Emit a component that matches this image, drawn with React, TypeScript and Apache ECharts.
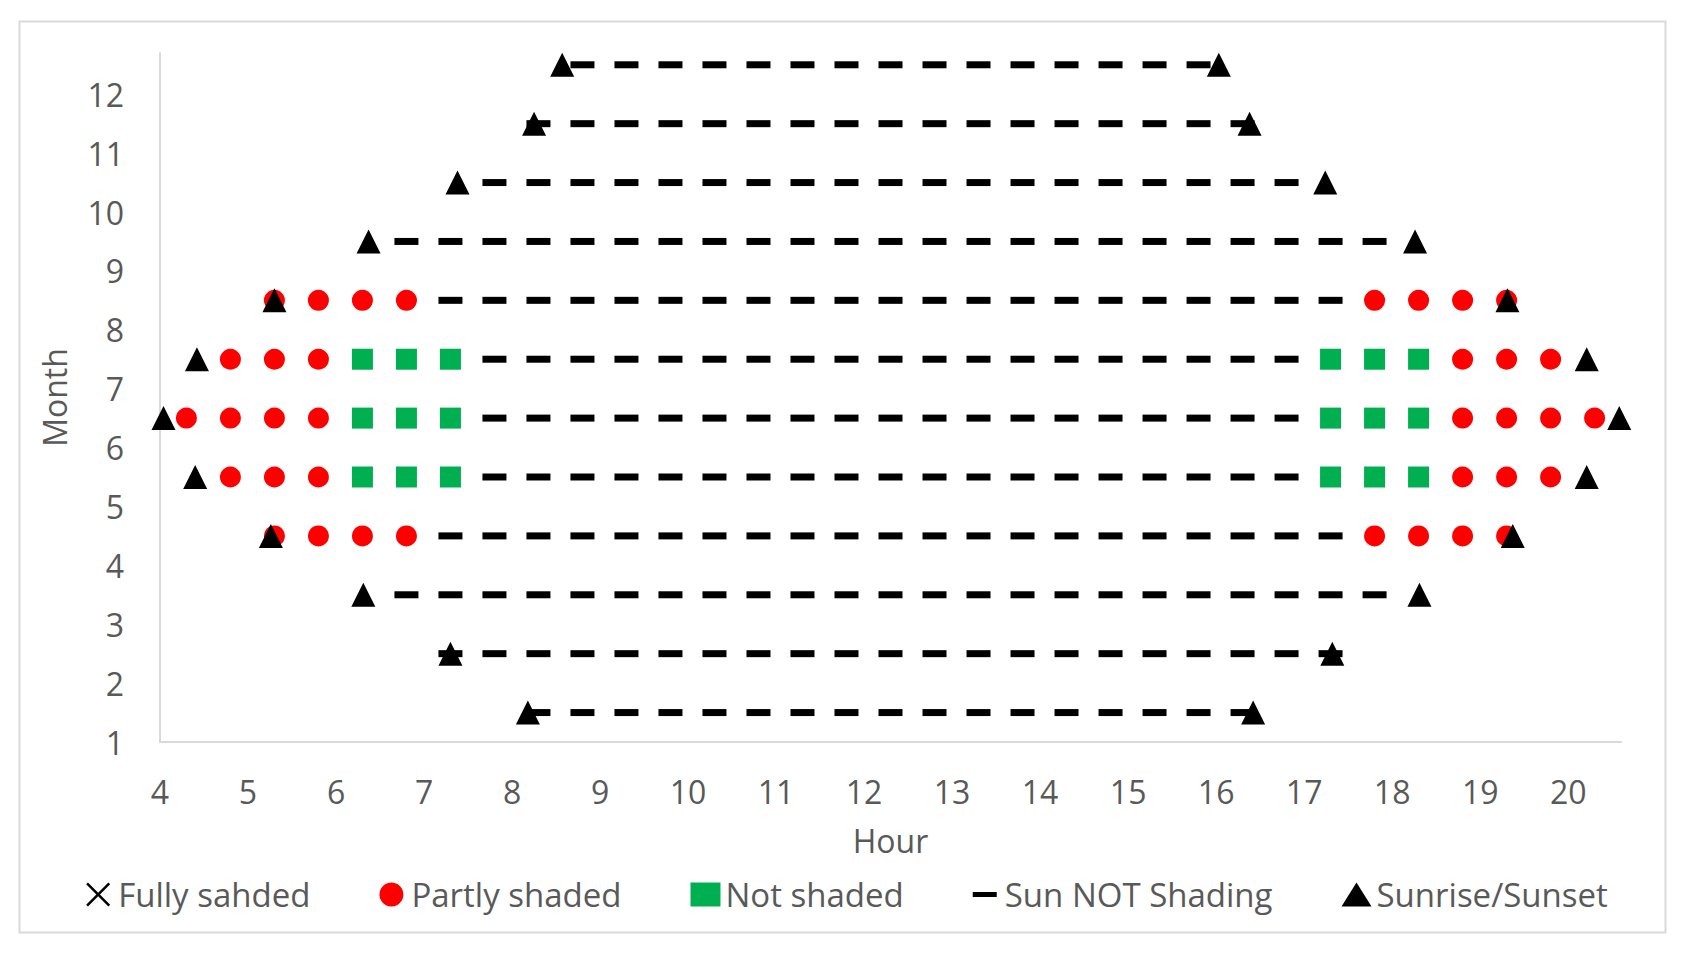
import React, { useEffect, useRef } from "react";
import * as echarts from "echarts";

// Row position of each month (points sit between the integer ticks)
const rowY = [1.5, 2.5, 3.5, 4.5, 5.5, 6.5, 7.5, 8.5, 9.5, 10.5, 11.5, 12.5];

const sunriseHours = [8.18, 7.3, 6.31, 5.26, 4.4, 4.04, 4.42, 5.3, 6.37, 7.38, 8.25, 8.57];
const sunsetHours = [16.42, 17.32, 18.31, 19.37, 20.21, 20.58, 20.21, 19.31, 18.26, 17.24, 16.38, 16.03];

const fullyShadedHours: number[][] = [[], [], [], [], [], [], [], [], [], [], [], []];

const partlyShadedHours: number[][] = [
  [],
  [],
  [],
  [5.3, 5.8, 6.3, 6.8, 17.8, 18.3, 18.8, 19.3],
  [4.8, 5.3, 5.8, 18.8, 19.3, 19.8],
  [4.3, 4.8, 5.3, 5.8, 18.8, 19.3, 19.8, 20.3],
  [4.8, 5.3, 5.8, 18.8, 19.3, 19.8],
  [5.3, 5.8, 6.3, 6.8, 17.8, 18.3, 18.8, 19.3],
  [],
  [],
  [],
  [],
];

const notShadedHours: number[][] = [
  [],
  [],
  [],
  [],
  [6.3, 6.8, 7.3, 17.3, 17.8, 18.3],
  [6.3, 6.8, 7.3, 17.3, 17.8, 18.3],
  [6.3, 6.8, 7.3, 17.3, 17.8, 18.3],
  [],
  [],
  [],
  [],
  [],
];

const sunNotShadingHours: number[][] = [
  [8.3, 8.8, 9.3, 9.8, 10.3, 10.8, 11.3, 11.8, 12.3, 12.8, 13.3, 13.8, 14.3, 14.8, 15.3, 15.8, 16.3],
  [7.3, 7.8, 8.3, 8.8, 9.3, 9.8, 10.3, 10.8, 11.3, 11.8, 12.3, 12.8, 13.3, 13.8, 14.3, 14.8, 15.3, 15.8, 16.3, 16.8, 17.3],
  [6.8, 7.3, 7.8, 8.3, 8.8, 9.3, 9.8, 10.3, 10.8, 11.3, 11.8, 12.3, 12.8, 13.3, 13.8, 14.3, 14.8, 15.3, 15.8, 16.3, 16.8, 17.3, 17.8],
  [7.3, 7.8, 8.3, 8.8, 9.3, 9.8, 10.3, 10.8, 11.3, 11.8, 12.3, 12.8, 13.3, 13.8, 14.3, 14.8, 15.3, 15.8, 16.3, 16.8, 17.3],
  [7.8, 8.3, 8.8, 9.3, 9.8, 10.3, 10.8, 11.3, 11.8, 12.3, 12.8, 13.3, 13.8, 14.3, 14.8, 15.3, 15.8, 16.3, 16.8],
  [7.8, 8.3, 8.8, 9.3, 9.8, 10.3, 10.8, 11.3, 11.8, 12.3, 12.8, 13.3, 13.8, 14.3, 14.8, 15.3, 15.8, 16.3, 16.8],
  [7.8, 8.3, 8.8, 9.3, 9.8, 10.3, 10.8, 11.3, 11.8, 12.3, 12.8, 13.3, 13.8, 14.3, 14.8, 15.3, 15.8, 16.3, 16.8],
  [7.3, 7.8, 8.3, 8.8, 9.3, 9.8, 10.3, 10.8, 11.3, 11.8, 12.3, 12.8, 13.3, 13.8, 14.3, 14.8, 15.3, 15.8, 16.3, 16.8, 17.3],
  [6.8, 7.3, 7.8, 8.3, 8.8, 9.3, 9.8, 10.3, 10.8, 11.3, 11.8, 12.3, 12.8, 13.3, 13.8, 14.3, 14.8, 15.3, 15.8, 16.3, 16.8, 17.3, 17.8],
  [7.8, 8.3, 8.8, 9.3, 9.8, 10.3, 10.8, 11.3, 11.8, 12.3, 12.8, 13.3, 13.8, 14.3, 14.8, 15.3, 15.8, 16.3, 16.8],
  [8.3, 8.8, 9.3, 9.8, 10.3, 10.8, 11.3, 11.8, 12.3, 12.8, 13.3, 13.8, 14.3, 14.8, 15.3, 15.8, 16.3],
  [8.8, 9.3, 9.8, 10.3, 10.8, 11.3, 11.8, 12.3, 12.8, 13.3, 13.8, 14.3, 14.8, 15.3, 15.8],
];

const seriesNames = ["Fully sahded", "Partly shaded", "Not shaded", "Sun NOT Shading", "Sunrise/Sunset"];

const toPoints = (rows: number[][]) =>
  rows.flatMap((hours, i) => hours.map((h) => [h, rowY[i]]));

const X_ICON =
  "path://M0,1.5L1.5,0L10,8.5L18.5,0L20,1.5L11.5,10L20,18.5L18.5,20L10,11.5L1.5,20L0,18.5L8.5,10Z";
const DASH_ICON =
  "path://M0,0L0.01,0L0,0.01Z M0,9.5L24,9.5L24,14.5L0,14.5Z M23.99,24L24,24L24,23.99Z";

const FONT = "'Open Sans'";
const TEXT_COLOR = "#595959";

export default function App() {
  const ref = useRef<HTMLDivElement>(null);

  useEffect(() => {
    document.body.style.margin = "0";
    if (!ref.current) return;
    const chart = echarts.init(ref.current, undefined, { renderer: "svg" });

    const sunPoints = [
      ...sunriseHours.map((h, i) => [h, rowY[i]]),
      ...sunsetHours.map((h, i) => [h, rowY[i]]),
    ];

    const solid = (color: string) => ({ color, opacity: 1 });

    chart.setOption({
      animation: false,
      backgroundColor: "#ffffff",
      textStyle: { fontFamily: FONT },
      graphic: [
        {
          type: "rect",
          shape: { x: 19.5, y: 21.5, width: 1646, height: 911 },
          style: { fill: "none", stroke: "#D9D9D9", lineWidth: 2 },
          silent: true,
          z: -1,
        },
      ],
      grid: { left: 160, right: 73, top: 53, bottom: 218, containLabel: false },
      xAxis: {
        type: "value",
        min: 4,
        max: 20.6,
        interval: 1,
        name: "Hour",
        nameLocation: "middle",
        nameGap: 82,
        nameTextStyle: { color: TEXT_COLOR, fontSize: 32, fontFamily: FONT },
        axisLine: { show: true, onZero: false, lineStyle: { color: "#D9D9D9", width: 2 } },
        axisTick: { show: false },
        splitLine: { show: false },
        axisLabel: {
          color: TEXT_COLOR,
          fontSize: 32,
          fontFamily: FONT,
          margin: 33,
          formatter: (v: number) => (Number.isInteger(v) ? String(v) : ""),
        },
      },
      yAxis: {
        type: "value",
        min: 1,
        max: 12.7,
        interval: 1,
        name: "Month",
        nameLocation: "middle",
        nameGap: 90,
        nameTextStyle: { color: TEXT_COLOR, fontSize: 32, fontFamily: FONT },
        axisLine: { show: true, onZero: false, lineStyle: { color: "#D9D9D9", width: 2 } },
        axisTick: { show: false },
        splitLine: { show: false },
        axisLabel: {
          color: TEXT_COLOR,
          fontSize: 32,
          fontFamily: FONT,
          margin: 36,
          formatter: (v: number) => (Number.isInteger(v) ? String(v) : ""),
        },
      },
      legend: {
        left: "center",
        top: 873,
        itemWidth: 30,
        itemHeight: 24,
        itemGap: 69,
        textStyle: { color: TEXT_COLOR, fontSize: 33, fontFamily: FONT },
        data: [
          { name: seriesNames[0], icon: X_ICON },
          { name: seriesNames[1], icon: "circle" },
          { name: seriesNames[2], icon: "rect" },
          { name: seriesNames[3], icon: DASH_ICON },
          { name: seriesNames[4], icon: "triangle" },
        ],
      },
      series: [
        {
          name: seriesNames[0],
          type: "scatter",
          symbol: X_ICON,
          symbolSize: 22,
          itemStyle: solid("#000000"),
          data: toPoints(fullyShadedHours),
        },
        {
          name: seriesNames[1],
          type: "scatter",
          symbol: "circle",
          symbolSize: 21,
          itemStyle: solid("#FF0000"),
          data: toPoints(partlyShadedHours),
        },
        {
          name: seriesNames[2],
          type: "scatter",
          symbol: "rect",
          symbolSize: 21,
          itemStyle: solid("#00B050"),
          data: toPoints(notShadedHours),
        },
        {
          name: seriesNames[3],
          type: "scatter",
          symbol: "rect",
          symbolSize: [24, 7],
          itemStyle: solid("#000000"),
          data: toPoints(sunNotShadingHours),
        },
        {
          name: seriesNames[4],
          type: "scatter",
          symbol: "triangle",
          symbolSize: 24,
          itemStyle: solid("#000000"),
          data: sunPoints,
        },
      ],
    });

    return () => chart.dispose();
  }, []);

  return <div ref={ref} style={{ width: 1694, height: 960 }} />;
}
